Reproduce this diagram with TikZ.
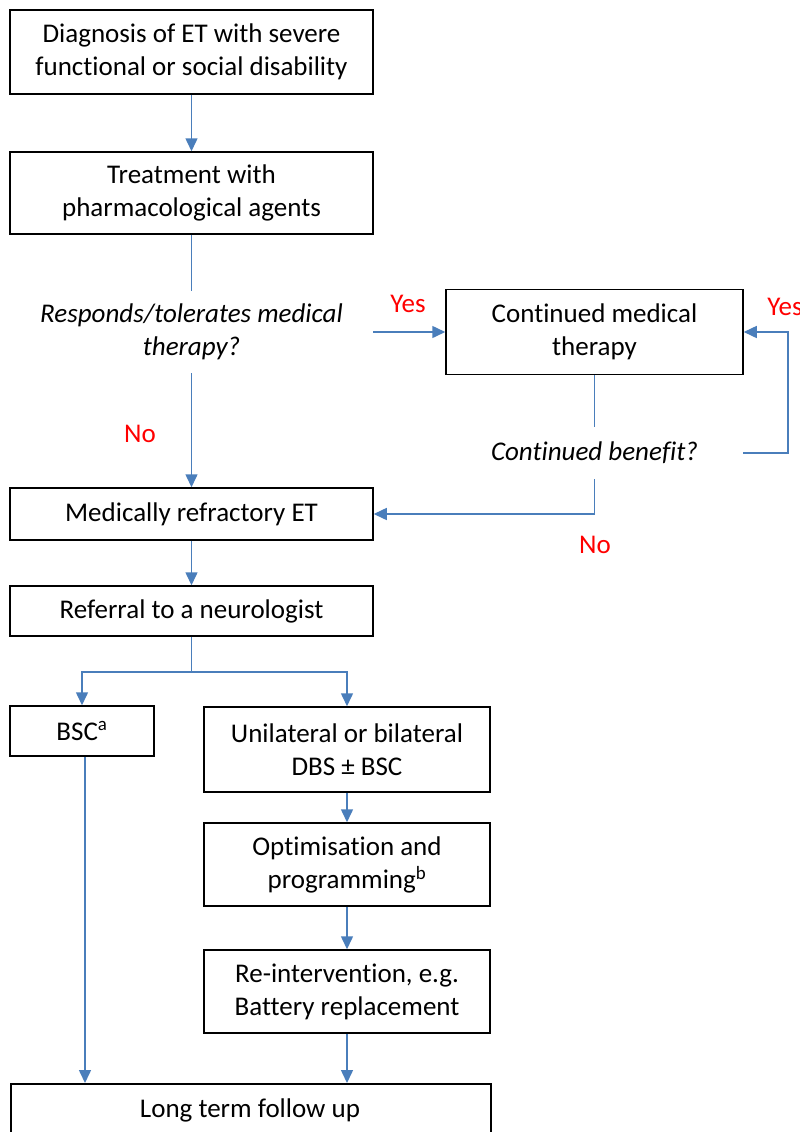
\documentclass[tikz,border=0pt]{standalone}
\usepackage{fontspec}
\setmainfont[Ligatures=NoCommon]{Carlito}
\usetikzlibrary{arrows.meta}
\definecolor{lineblue}{HTML}{4A7EBB}
\definecolor{yesred}{HTML}{FF0000}
\tikzset{
  box/.style={draw=black, line width=1.5pt, align=center, inner sep=0pt, font=\fontsize{27}{33}\selectfont},
  quest/.style={align=center, inner sep=0pt, font=\fontsize{27}{33}\selectfont\itshape},
  lbl/.style={text=yesred, inner sep=0pt, font=\fontsize{27}{30}\selectfont},
  conn/.style={draw=lineblue, line width=1.5pt},
  arr/.style={conn, -{Triangle[length=13pt,width=12pt]}}
}
\begin{document}
\begin{tikzpicture}[x=1pt,y=-1pt]
\useasboundingbox (0,0) rectangle (800,1132);
\clip (0,0) rectangle (800,1132);
\fill[white] (0,0) rectangle (800,1132);
% boxes
\node[box, minimum width=363pt, minimum height=84pt] (diag) at (191.5,52) {Diagnosis of ET with severe\\functional or social disability};
\node[box, minimum width=363pt, minimum height=82pt] (treat) at (191.5,193) {Treatment with\\pharmacological agents};
\node[quest, minimum width=363pt, minimum height=82pt] (q1) at (191.5,332) {Responds/tolerates medical\\therapy?};
\node[box, minimum width=297pt, minimum height=85pt] (cont) at (594.5,332) {Continued medical\\therapy};
\node[quest, minimum width=297pt, minimum height=52pt] (q2) at (594.5,453) {Continued benefit?};
\node[box, minimum width=363pt, minimum height=52pt] (mre) at (191.5,514) {Medically refractory ET};
\node[box, minimum width=363pt, minimum height=50pt] (refr) at (191.5,611) {Referral to a neurologist};
\node[box, minimum width=144pt, minimum height=50pt] (bsc) at (82,731) {BSC\textsuperscript{a}};
\node[box, minimum width=286pt, minimum height=85pt] (uni) at (347,749.5) {Unilateral or bilateral\\DBS \textpm{} BSC};
\node[box, minimum width=286pt, minimum height=83pt] (opt) at (347,864.5) {Optimisation and\\programming\textsuperscript{b}};
\node[box, minimum width=286pt, minimum height=83pt] (reint) at (347,991.5) {Re-intervention, e.g.\\Battery replacement};
\node[box, minimum width=480pt, minimum height=56pt, anchor=north west] (ltf) at (10,1083) {};
\node[font=\fontsize{27}{33}\selectfont, inner sep=0pt] (ltft) at (250,1110) {Long term follow up};
% labels
\node[lbl] (yes1) at (408,304) {Yes};
\node[lbl] (yes2) at (785,307) {Yes};
\node[lbl] (no1) at (140,434) {No};
\node[lbl] (no2) at (595,545) {No};
% connectors
\draw[arr] (diag) -- (treat);
\draw[conn] (treat) -- (q1);
\draw[arr] (q1) -- (mre);
\draw[arr] (q1.east) -- (cont.west);
\draw[conn] (cont) -- (q2);
\draw[arr] (q2.east) -- ++(45,0) |- (cont.east);
\draw[arr] (q2.south) |- (mre.east);
\draw[arr] (mre) -- (refr);
\draw[arr] (refr.south) -- ++(0,35) -| (bsc.north);
\draw[arr] (refr.south) -- ++(0,35) -| (uni.north);
\draw[arr] (uni) -- (opt);
\draw[arr] (opt) -- (reint);
\draw[arr] (reint.south) -- (reint.south |- ltf.north);
\draw[arr] ([xshift=3pt]bsc.south) -- ([xshift=3pt]bsc.south |- ltf.north);
\end{tikzpicture}
\end{document}
